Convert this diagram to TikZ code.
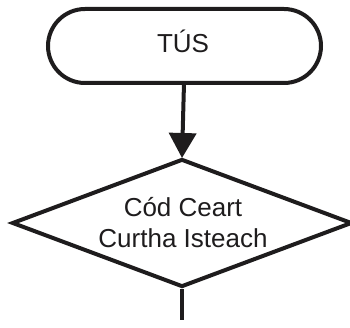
\documentclass[tikz,border=0pt]{standalone}
\usepackage{fontspec}
\setmainfont{Liberation Sans}
\usetikzlibrary{arrows.meta,shapes.geometric}
\definecolor{ink}{HTML}{1E1C1D}
\begin{document}
\begin{tikzpicture}[x=1pt,y=1pt,
  lw/.style={line width=4pt, draw=ink},
  term/.style={lw, minimum width=273pt, minimum height=74pt, rounded corners=37pt, inner sep=0pt},
  decision/.style={lw, diamond, minimum width=340pt, minimum height=128pt, inner sep=0pt},
  txt/.style={text=ink, font=\fontsize{26}{31}\selectfont, inner sep=0pt, anchor=base}]
\useasboundingbox (0,0) rectangle (350,327);
\node[term] (start) at (184.5,281) {};
\node[txt] (starttext) at (183,274) {TÚS};
\node[decision] (dec) at (182,104) {};
\node[txt] (l1) at (183,111) {Cód Ceart};
\node[txt] (l2) at (183,80) {Curtha Isteach};
\coordinate (tip) at (182,169);
\coordinate (endl) at (182,7);
\draw[lw, -{Triangle[width=27pt,length=25pt]}] (184,244) -- (tip);
\draw[lw] (dec.south) -- (endl);
\end{tikzpicture}
\end{document}
